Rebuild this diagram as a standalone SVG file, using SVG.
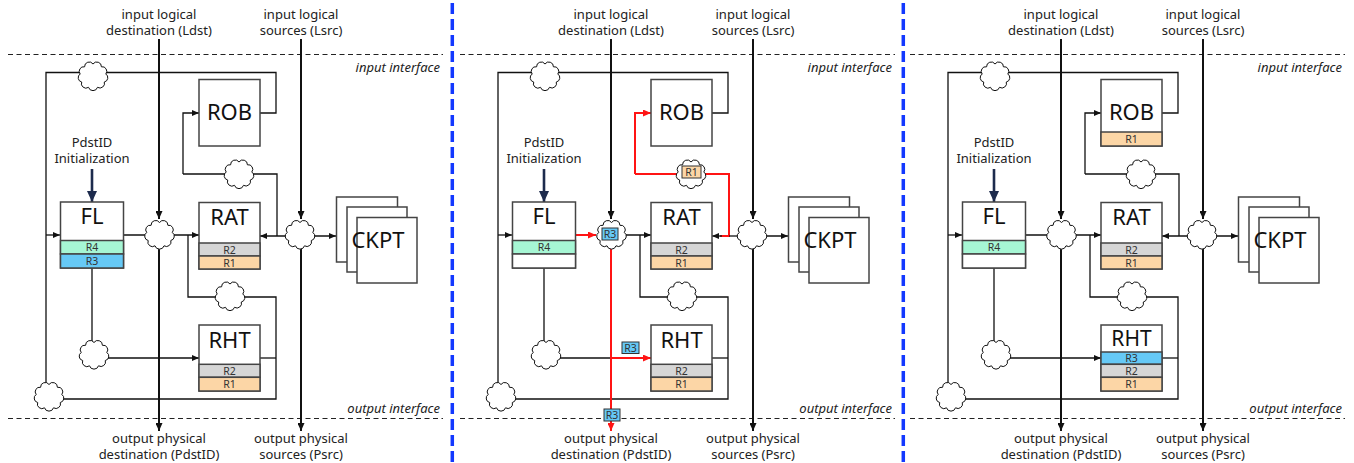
<svg xmlns="http://www.w3.org/2000/svg" xmlns:xlink="http://www.w3.org/1999/xlink" width="1354" height="463" viewBox="0 0 1354 463">
<style>
text{font-family:'Noto Sans','DejaVu Sans',sans-serif;fill:#222}
.lbl{font-size:13px;text-anchor:middle}
.it{font-size:13px;font-style:italic;text-anchor:end}
.title{font-size:22px;text-anchor:middle;fill:#111}
.bt{font-size:10.5px;text-anchor:middle;fill:#333}
.box{fill:#fff;stroke:#444;stroke-width:1.5}
.bR1{fill:#fcd6a6;stroke:#444;stroke-width:1.5}
.bR2{fill:#d6d6d6;stroke:#444;stroke-width:1.5}
.bR3{fill:#66c9f6;stroke:#444;stroke-width:1.5}
.bR4{fill:#a6f6d4;stroke:#444;stroke-width:1.5}
.bE{fill:#fff;stroke:#444;stroke-width:1.5}
.tag3{fill:#66c9f6;stroke:#333;stroke-width:1}
.tag1{fill:#fcd6a6;stroke:#333;stroke-width:1}
.w{fill:none;stroke:#111;stroke-width:1.3}
.bus{fill:none;stroke:#111;stroke-width:2}
.red{fill:none;stroke:#ff1414;stroke-width:2}
.dash{stroke:#222;stroke-width:1.2;stroke-dasharray:5 3.5}
.sep{stroke:#1238ff;stroke-width:3.5;stroke-dasharray:11 5}
.cl{fill:#fff;stroke:#111;stroke-width:1}
.navy{fill:none;stroke:#1d2b4d;stroke-width:2.6}
</style>
<defs>
<path id="cloud" class="cl" d="M0,-12 A4.6,4.6 0 0 1 8.4,-9.2 A4.5,4.5 0 0 1 12.8,-2 A4.4,4.4 0 0 1 11.3,6 A4.6,4.6 0 0 1 4.5,11.3 A4.7,4.7 0 0 1 -4.5,11.3 A4.5,4.5 0 0 1 -11.3,6 A4.4,4.4 0 0 1 -12.8,-2 A4.5,4.5 0 0 1 -8.4,-9.2 A4.6,4.6 0 0 1 0,-12 Z"/>
<marker id="a" markerUnits="userSpaceOnUse" markerWidth="7" markerHeight="6" refX="7" refY="3" orient="auto"><path d="M0,0 L7,3 L0,6 z" fill="#111"/></marker>
<marker id="ab" markerUnits="userSpaceOnUse" markerWidth="8" markerHeight="7" refX="8" refY="3.5" orient="auto"><path d="M0,0 L8,3.5 L0,7 z" fill="#111"/></marker>
<marker id="ar" markerUnits="userSpaceOnUse" markerWidth="8" markerHeight="7" refX="8" refY="3.5" orient="auto"><path d="M0,0 L8,3.5 L0,7 z" fill="#ff1414"/></marker>
<marker id="an" markerUnits="userSpaceOnUse" markerWidth="11" markerHeight="10" refX="11" refY="5" orient="auto"><path d="M0,0 L11,5 L0,10 z" fill="#1d2b4d"/></marker>
</defs>

<line class="sep" x1="452.3" y1="3" x2="452.3" y2="463"/>
<line class="sep" x1="903.3" y1="3" x2="903.3" y2="463"/>

<!-- ================= PANEL 1 ================= -->
<g id="panel1">
<g id="p1-labels">
<line class="dash" x1="8" y1="54.5" x2="443" y2="54.5"/>
<line class="dash" x1="8" y1="418.5" x2="443" y2="418.5"/>
<text class="lbl" x="159" y="19">input logical</text>
<text class="lbl" x="159" y="35">destination (Ldst)</text>
<text class="lbl" x="301" y="19">input logical</text>
<text class="lbl" x="301" y="35">sources (Lsrc)</text>
<text class="it" x="440" y="71.5">input interface</text>
<text class="it" x="440" y="412.5">output interface</text>
<text class="lbl" x="159" y="443">output physical</text>
<text class="lbl" x="159" y="459">destination (PdstID)</text>
<text class="lbl" x="301" y="443">output physical</text>
<text class="lbl" x="301" y="459">sources (Psrc)</text>
<text class="lbl" x="92" y="146.5">PdstID</text>
<text class="lbl" x="92" y="162.5">Initialization</text>
</g>
<g id="p1-connectors">
<path class="w" d="M260,113 H276 V72.5 H46 V396"/>
<path class="w" d="M46,235 H60" marker-end="url(#a)"/>
<path class="w" d="M49,399 H276 V297 H230"/>
<path class="w" d="M188,235 V297 H230"/>
<path class="w" d="M260,358 H276"/>
<path class="w" d="M183,174 V113 H199" marker-end="url(#a)"/>
<path class="w" d="M183,174 H277 V236"/>
<path class="w" d="M300,236 H260" marker-end="url(#a)"/>
<path class="w" d="M124,235 H159"/>
<path class="w" d="M159,235 H199" marker-end="url(#a)"/>
<path class="w" d="M92,268 V358 H199" marker-end="url(#a)"/>
<path class="w" d="M300,236 H336" marker-end="url(#a)"/>
<path class="bus" d="M159,39 V219" marker-end="url(#ab)"/>
<path class="bus" d="M159,236 V431" marker-end="url(#ab)"/>
<path class="bus" d="M301,39 V219" marker-end="url(#ab)"/>
<path class="bus" d="M301,236 V431" marker-end="url(#ab)"/>
<path class="navy" d="M92,169 V202" marker-end="url(#an)"/>
</g>
<g id="p1-clouds">
<use href="#cloud" x="93" y="76"/>
<use href="#cloud" x="159.5" y="234.5"/>
<use href="#cloud" x="300" y="234.5"/>
<use href="#cloud" x="239" y="174"/>
<use href="#cloud" x="230" y="296"/>
<use href="#cloud" x="94" y="354.5"/>
<use href="#cloud" x="49" y="396.5"/>
</g>
<g id="p1-FL">
<rect class="box" x="60.5" y="202" width="63" height="66"/>
<rect class="bR4" x="60.5" y="240.5" width="63" height="13.5"/>
<rect class="bR3" x="60.5" y="254" width="63" height="14"/>
<text class="title" x="92" y="224">FL</text>
<text class="bt" x="92" y="251">R4</text>
<text class="bt" x="92" y="265">R3</text>
</g>
<g id="p1-ROB">
<rect class="box" x="199" y="79.5" width="61" height="66.5"/>
<text class="title" x="229.5" y="120">ROB</text>
</g>
<g id="p1-RAT">
<rect class="box" x="199" y="202.5" width="61" height="66.5"/>
<rect class="bR2" x="199" y="243" width="61" height="13"/>
<rect class="bR1" x="199" y="256" width="61" height="13"/>
<text class="title" x="229.5" y="225">RAT</text>
<text class="bt" x="229.5" y="253.5">R2</text>
<text class="bt" x="229.5" y="266.5">R1</text>
</g>
<g id="p1-RHT">
<rect class="box" x="199" y="325" width="61" height="66"/>
<rect class="bR2" x="199" y="364.3" width="61" height="13"/>
<rect class="bR1" x="199" y="377.3" width="61" height="13.7"/>
<text class="title" x="229.5" y="348">RHT</text>
<text class="bt" x="229.5" y="374.8">R2</text>
<text class="bt" x="229.5" y="388">R1</text>
</g>
<g id="p1-CKPT">
<rect class="box" x="336.5" y="197" width="61" height="65"/>
<rect class="box" x="347" y="207" width="60" height="65"/>
<rect class="box" x="357" y="217.5" width="60" height="65.5"/>
<text class="title" x="378" y="248">CKPT</text>
</g>
</g>

<!-- ================= PANEL 2 ================= -->
<g id="panel2" transform="translate(452,0)">
<g id="p2-labels">
<line class="dash" x1="8" y1="54.5" x2="443" y2="54.5"/>
<line class="dash" x1="8" y1="418.5" x2="443" y2="418.5"/>
<text class="lbl" x="159" y="19">input logical</text>
<text class="lbl" x="159" y="35">destination (Ldst)</text>
<text class="lbl" x="301" y="19">input logical</text>
<text class="lbl" x="301" y="35">sources (Lsrc)</text>
<text class="it" x="440" y="71.5">input interface</text>
<text class="it" x="440" y="412.5">output interface</text>
<text class="lbl" x="159" y="443">output physical</text>
<text class="lbl" x="159" y="459">destination (PdstID)</text>
<text class="lbl" x="301" y="443">output physical</text>
<text class="lbl" x="301" y="459">sources (Psrc)</text>
<text class="lbl" x="92" y="146.5">PdstID</text>
<text class="lbl" x="92" y="162.5">Initialization</text>
</g>
<g id="p2-connectors">
<path class="w" d="M260,113 H276 V72.5 H46 V396"/>
<path class="w" d="M46,235 H60" marker-end="url(#a)"/>
<path class="w" d="M49,399 H276 V297 H230"/>
<path class="w" d="M188,235 V297 H230"/>
<path class="w" d="M260,358 H276"/>
<path class="red" d="M183,174 V113 H199" marker-end="url(#ar)"/>
<path class="red" d="M183,174 H277 V236 H268"/>
<path class="w" d="M300,236 H277"/>
<path class="w" d="M270,236 H260" marker-end="url(#a)"/>
<path class="red" d="M124,235 H144" marker-end="url(#ar)"/>
<path class="w" d="M159,235 H199" marker-end="url(#a)"/>
<path class="w" d="M92,268 V358 H159"/>
<path class="red" d="M159,358 H199" marker-end="url(#ar)"/>
<path class="w" d="M300,236 H336" marker-end="url(#a)"/>
<path class="bus" d="M159,39 V219" marker-end="url(#ab)"/>
<path class="red" d="M159,236 V431" marker-end="url(#ar)"/>
<path class="bus" d="M301,39 V219" marker-end="url(#ab)"/>
<path class="bus" d="M301,236 V431" marker-end="url(#ab)"/>
<path class="navy" d="M92,169 V202" marker-end="url(#an)"/>
</g>
<g id="p2-clouds">
<use href="#cloud" x="93" y="76"/>
<use href="#cloud" x="159.5" y="234.5"/>
<use href="#cloud" x="300" y="234.5"/>
<use href="#cloud" x="239" y="174"/>
<use href="#cloud" x="230" y="296"/>
<use href="#cloud" x="94" y="354.5"/>
<use href="#cloud" x="49" y="396.5"/>
</g>
<g id="p2-tags">
<rect class="tag3" x="150" y="228" width="16" height="12"/>
<text class="bt" x="158" y="238">R3</text>
<rect class="tag1" x="230" y="166" width="19" height="12"/>
<text class="bt" x="239.5" y="176">R1</text>
<rect class="tag3" x="170" y="342" width="17" height="11.5"/>
<text class="bt" x="178.5" y="351.5">R3</text>
<rect class="tag3" x="152" y="409" width="16" height="12"/>
<text class="bt" x="160" y="419">R3</text>
</g>
<g id="p2-FL">
<rect class="box" x="60.5" y="202" width="63" height="66"/>
<rect class="bR4" x="60.5" y="240.5" width="63" height="13.5"/>
<rect class="bE" x="60.5" y="254" width="63" height="14"/>
<text class="title" x="92" y="224">FL</text>
<text class="bt" x="92" y="251">R4</text>
</g>
<g id="p2-ROB">
<rect class="box" x="199" y="79.5" width="61" height="66.5"/>
<text class="title" x="229.5" y="120">ROB</text>
</g>
<g id="p2-RAT">
<rect class="box" x="199" y="202.5" width="61" height="66.5"/>
<rect class="bR2" x="199" y="243" width="61" height="13"/>
<rect class="bR1" x="199" y="256" width="61" height="13"/>
<text class="title" x="229.5" y="225">RAT</text>
<text class="bt" x="229.5" y="253.5">R2</text>
<text class="bt" x="229.5" y="266.5">R1</text>
</g>
<g id="p2-RHT">
<rect class="box" x="199" y="325" width="61" height="66"/>
<rect class="bR2" x="199" y="364.3" width="61" height="13"/>
<rect class="bR1" x="199" y="377.3" width="61" height="13.7"/>
<text class="title" x="229.5" y="348">RHT</text>
<text class="bt" x="229.5" y="374.8">R2</text>
<text class="bt" x="229.5" y="388">R1</text>
</g>
<g id="p2-CKPT">
<rect class="box" x="336.5" y="197" width="61" height="65"/>
<rect class="box" x="347" y="207" width="60" height="65"/>
<rect class="box" x="357" y="217.5" width="60" height="65.5"/>
<text class="title" x="378" y="248">CKPT</text>
</g>
</g>

<!-- ================= PANEL 3 ================= -->
<g id="panel3" transform="translate(902,0)">
<g id="p3-labels">
<line class="dash" x1="8" y1="54.5" x2="443" y2="54.5"/>
<line class="dash" x1="8" y1="418.5" x2="443" y2="418.5"/>
<text class="lbl" x="159" y="19">input logical</text>
<text class="lbl" x="159" y="35">destination (Ldst)</text>
<text class="lbl" x="301" y="19">input logical</text>
<text class="lbl" x="301" y="35">sources (Lsrc)</text>
<text class="it" x="440" y="71.5">input interface</text>
<text class="it" x="440" y="412.5">output interface</text>
<text class="lbl" x="159" y="443">output physical</text>
<text class="lbl" x="159" y="459">destination (PdstID)</text>
<text class="lbl" x="301" y="443">output physical</text>
<text class="lbl" x="301" y="459">sources (Psrc)</text>
<text class="lbl" x="92" y="146.5">PdstID</text>
<text class="lbl" x="92" y="162.5">Initialization</text>
</g>
<g id="p3-connectors">
<path class="w" d="M260,113 H276 V72.5 H46 V396"/>
<path class="w" d="M46,235 H60" marker-end="url(#a)"/>
<path class="w" d="M49,399 H276 V297 H230"/>
<path class="w" d="M188,235 V297 H230"/>
<path class="w" d="M260,358 H276"/>
<path class="w" d="M183,174 V113 H199" marker-end="url(#a)"/>
<path class="w" d="M183,174 H277 V236"/>
<path class="w" d="M300,236 H260" marker-end="url(#a)"/>
<path class="w" d="M124,235 H159"/>
<path class="w" d="M159,235 H199" marker-end="url(#a)"/>
<path class="w" d="M92,268 V358 H199" marker-end="url(#a)"/>
<path class="w" d="M300,236 H336" marker-end="url(#a)"/>
<path class="bus" d="M159,39 V219" marker-end="url(#ab)"/>
<path class="bus" d="M159,236 V431" marker-end="url(#ab)"/>
<path class="bus" d="M301,39 V219" marker-end="url(#ab)"/>
<path class="bus" d="M301,236 V431" marker-end="url(#ab)"/>
<path class="navy" d="M92,169 V202" marker-end="url(#an)"/>
</g>
<g id="p3-clouds">
<use href="#cloud" x="93" y="76"/>
<use href="#cloud" x="159.5" y="234.5"/>
<use href="#cloud" x="300" y="234.5"/>
<use href="#cloud" x="239" y="174"/>
<use href="#cloud" x="230" y="296"/>
<use href="#cloud" x="94" y="354.5"/>
<use href="#cloud" x="49" y="396.5"/>
</g>
<g id="p3-FL">
<rect class="box" x="60.5" y="202" width="63" height="66"/>
<rect class="bR4" x="60.5" y="240.5" width="63" height="13.5"/>
<rect class="bE" x="60.5" y="254" width="63" height="14"/>
<text class="title" x="92" y="224">FL</text>
<text class="bt" x="92" y="251">R4</text>
</g>
<g id="p3-ROB">
<rect class="box" x="199" y="79.5" width="61" height="66.5"/>
<rect class="bR1" x="199" y="132" width="61" height="14"/>
<text class="title" x="229.5" y="120">ROB</text>
<text class="bt" x="229.5" y="143">R1</text>
</g>
<g id="p3-RAT">
<rect class="box" x="199" y="202.5" width="61" height="66.5"/>
<rect class="bR2" x="199" y="243" width="61" height="13"/>
<rect class="bR1" x="199" y="256" width="61" height="13"/>
<text class="title" x="229.5" y="225">RAT</text>
<text class="bt" x="229.5" y="253.5">R2</text>
<text class="bt" x="229.5" y="266.5">R1</text>
</g>
<g id="p3-RHT">
<rect class="box" x="199" y="325" width="61" height="66"/>
<rect class="bR3" x="199" y="352" width="61" height="12.3"/>
<rect class="bR2" x="199" y="364.3" width="61" height="13"/>
<rect class="bR1" x="199" y="377.3" width="61" height="13.7"/>
<text class="title" x="229.5" y="346" style="font-size:21px">RHT</text>
<text class="bt" x="229.5" y="362.3">R3</text>
<text class="bt" x="229.5" y="374.8">R2</text>
<text class="bt" x="229.5" y="388">R1</text>
</g>
<g id="p3-CKPT">
<rect class="box" x="336.5" y="197" width="61" height="65"/>
<rect class="box" x="347" y="207" width="60" height="65"/>
<rect class="box" x="357" y="217.5" width="60" height="65.5"/>
<text class="title" x="378" y="248">CKPT</text>
</g>
</g>
</svg>
